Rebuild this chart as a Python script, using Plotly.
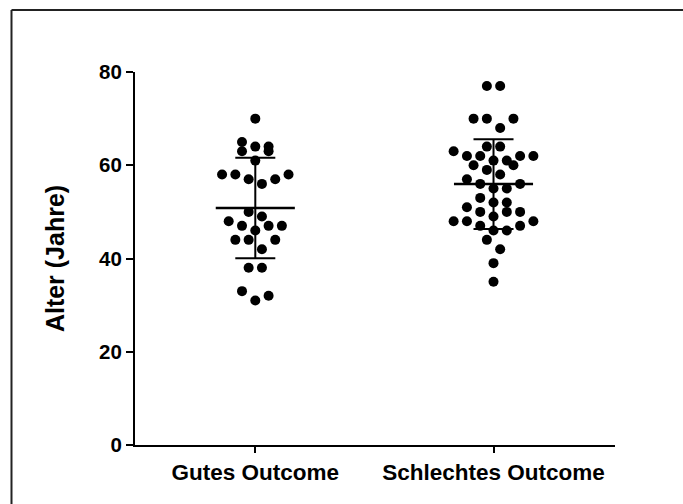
import numpy as np
import plotly.graph_objects as go

categories = ["Gutes Outcome", "Schlechtes Outcome"]
gutes = [70, 64, 63, 64, 65, 63, 61, 58, 58, 57, 56, 57, 58, 50, 49, 48, 47, 47,
         47, 46, 44, 44, 44, 42, 38, 38, 33, 31, 32]
schlechtes = [77, 77, 70, 70, 70, 68, 64, 64, 63, 62, 62, 62, 62, 61, 61, 60, 60,
              59, 58, 57, 56, 56, 55, 55, 53, 52, 51, 52, 50, 49, 50, 50, 48, 47,
              46, 46, 47, 48, 48, 44, 42, 39, 35]
groups = [gutes, schlechtes]
y_ticks = [0, 20, 40, 60, 80]
y_title = "Alter (Jahre)"


def swarm_offsets(values, row_span=2.0, step=0.0558):
    """Prism-like column scatter: group ascending values into rows,
    then spread each row horizontally, lowest values nearest the centre."""
    vals = np.asarray(values, dtype=float)
    order = np.argsort(vals, kind="stable")
    rows, cur, start = [], [], None
    for idx in order:
        v = vals[idx]
        if start is None or v - start > row_span:
            if cur:
                rows.append(cur)
            cur, start = [idx], v
        else:
            cur.append(idx)
    if cur:
        rows.append(cur)
    off = np.zeros(len(vals))
    for row in rows:
        n = len(row)
        slots = (np.arange(n) - (n - 1) / 2) * step
        slot_order = sorted(range(n), key=lambda k: (abs(slots[k]), -slots[k]))
        for j, k in enumerate(slot_order):
            off[row[j]] = slots[k]
    return off


fig = go.Figure()
for i, vals in enumerate(groups):
    off = swarm_offsets(vals)
    fig.add_trace(go.Scatter(
        x=i + off, y=vals, mode="markers",
        marker=dict(size=10, color="black", line=dict(width=0)),
        showlegend=False, cliponaxis=False, hoverinfo="skip"))
    m = float(np.mean(vals))
    sd = float(np.std(vals, ddof=1))
    # mean line
    fig.add_shape(type="line", x0=i - 0.166, x1=i + 0.166, y0=m, y1=m,
                  xref="x", yref="y", line=dict(color="black", width=2.5))
    # SD whisker
    fig.add_shape(type="line", x0=i, x1=i, y0=m - sd, y1=m + sd,
                  xref="x", yref="y", line=dict(color="black", width=2))
    for yv in (m - sd, m + sd):
        fig.add_shape(type="line", x0=i - 0.084, x1=i + 0.084, y0=yv, y1=yv,
                      xref="x", yref="y", line=dict(color="black", width=2))

# outer frame (left and top edges)
fig.add_shape(type="line", xref="paper", yref="paper", x0=-0.2573, x1=-0.2573,
              y0=1.1662, y1=-0.3, line=dict(color="#222222", width=2))
fig.add_shape(type="line", xref="paper", yref="paper", x0=-0.2573, x1=1.3,
              y0=1.1662, y1=1.1662, line=dict(color="#222222", width=2))

font_family = "Liberation Sans, Arial, sans-serif"
fig.update_layout(
    width=683, height=504,
    margin=dict(l=135, r=68, t=72, b=59),
    paper_bgcolor="white", plot_bgcolor="white",
    font=dict(family=font_family, color="black"),
    xaxis=dict(range=[-0.505, 1.51], tickvals=[0, 1], ticktext=categories,
               showline=True, linecolor="black", linewidth=2, showgrid=False,
               zeroline=False, ticks="outside", ticklen=6, tickwidth=2,
               tickcolor="black",
               tickfont=dict(family=font_family, size=22.5, color="black", weight="bold")),
    yaxis=dict(range=[0, 80], tickvals=y_ticks, showline=True, linecolor="black",
               linewidth=2, showgrid=False, zeroline=False, ticks="outside",
               ticklen=7, tickwidth=2, tickcolor="black",
               tickfont=dict(family=font_family, size=20.5, color="black", weight="bold"),
               title=dict(text=y_title, standoff=27,
                          font=dict(family=font_family, size=25, color="black", weight="bold"))),
)

fig.write_html("out.html")
